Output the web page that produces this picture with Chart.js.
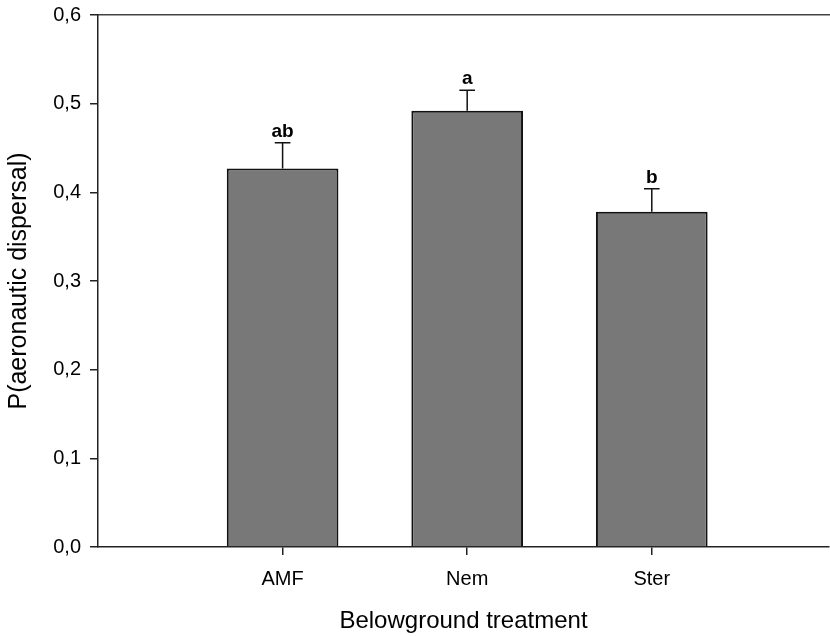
<!DOCTYPE html>
<html>
<head>
<meta charset="utf-8">
<script src="https://cdn.jsdelivr.net/npm/chart.js@4.4.1/dist/chart.umd.min.js"></script>
<style>
  html, body { margin: 0; padding: 0; background: #fff; }
  canvas { display: block; }
</style>
</head>
<body>
<canvas id="chart" width="830" height="636"></canvas>
<script>
const treatments = ["AMF", "Nem", "Ster"];
const positions = [1, 2, 3];
const meanValues = [0.427, 0.492, 0.378];
const errValues = [0.029, 0.023, 0.026];
const groupLetters = ["ab", "a", "b"];
const yTicks = [0, 0.1, 0.2, 0.3, 0.4, 0.5, 0.6];

const FONT = "'Liberation Sans', Arial, sans-serif";

// error bars (upper half only) with caps, and the group letters above them
const errorBarPlugin = {
  id: "errorBars",
  afterDatasetsDraw(chart) {
    const ctx = chart.ctx;
    const meta = chart.getDatasetMeta(0);
    const y = chart.scales.y;
    ctx.save();
    ctx.strokeStyle = "#111";
    ctx.lineWidth = 1.5;
    meta.data.forEach((bar, i) => {
      const x = bar.x;
      const top = y.getPixelForValue(meanValues[i] + errValues[i]);
      const half = bar.width * 0.07;
      ctx.beginPath();
      ctx.moveTo(x, bar.y);
      ctx.lineTo(x, top);
      ctx.moveTo(x - half, top);
      ctx.lineTo(x + half, top);
      ctx.stroke();
      ctx.fillStyle = "#000";
      ctx.font = "bold 19px " + FONT;
      ctx.textAlign = "center";
      ctx.textBaseline = "alphabetic";
      ctx.fillText(groupLetters[i], x, top - 6);
    });
    ctx.restore();
  }
};

// keep the plot box fixed: no extra room for the end tick labels
const noEdgePadding = s => {
  s.paddingTop = 0;
  s.paddingBottom = 0;
  s.paddingLeft = 0;
  s.paddingRight = 0;
};

new Chart(document.getElementById("chart"), {
  type: "bar",
  data: {
    datasets: [{
      data: positions.map((p, i) => ({ x: p, y: meanValues[i] })),
      backgroundColor: "#787878",
      borderColor: "#111",
      borderWidth: 2,
      categoryPercentage: 1,
      barPercentage: 0.605
    }]
  },
  options: {
    responsive: false,
    animation: false,
    layout: { padding: { right: 1 } },
    plugins: { legend: { display: false }, tooltip: { enabled: false } },
    scales: {
      x: {
        type: "linear",
        min: 0,
        max: 3.96,
        offset: false,
        afterBuildTicks: s => { s.ticks = positions.map(v => ({ value: v })); },
        afterFit: s => { s.height = 89; noEdgePadding(s); },
        ticks: {
          callback: v => treatments[positions.indexOf(v)] || "",
          font: { family: FONT, size: 20 },
          color: "#000",
          padding: 12,
          maxRotation: 0
        },
        grid: { offset: false, drawOnChartArea: false, drawTicks: true, tickLength: 8, color: "#222", lineWidth: 1.5 },
        border: { color: "#222", width: 1.5 },
        title: {
          display: true,
          text: "Belowground treatment",
          font: { family: FONT, size: 24 },
          color: "#000",
          padding: { top: 0, bottom: 0 }
        }
      },
      xTop: {
        type: "linear",
        position: "top",
        min: 0,
        max: 3.96,
        afterFit: s => { s.height = 15; noEdgePadding(s); },
        ticks: { display: false },
        grid: { display: false },
        border: { display: true, color: "#444", width: 1.5 }
      },
      y: {
        min: 0,
        max: 0.6,
        afterBuildTicks: s => { s.ticks = yTicks.map(v => ({ value: v })); },
        afterFit: s => { s.width = 98; noEdgePadding(s); },
        ticks: {
          callback: v => v.toFixed(1).replace(".", ","),
          font: { family: FONT, size: 20 },
          color: "#000",
          padding: 9
        },
        grid: { drawOnChartArea: false, drawTicks: true, tickLength: 8, color: "#222", lineWidth: 1.5 },
        border: { color: "#222", width: 1.5 },
        title: {
          display: true,
          text: "P(aeronautic dispersal)",
          font: { family: FONT, size: 25 },
          color: "#000",
          padding: { top: 4, bottom: 0 }
        }
      }
    }
  },
  plugins: [errorBarPlugin]
});
</script>
</body>
</html>
